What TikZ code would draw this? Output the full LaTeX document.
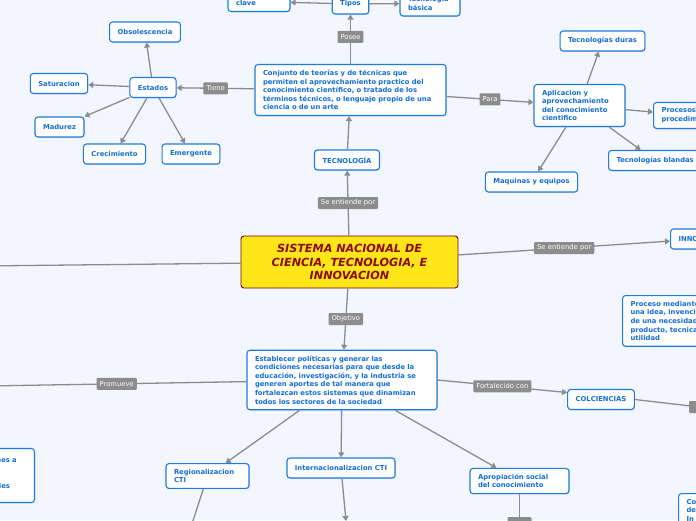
\documentclass[tikz,border=0pt]{standalone}
\usepackage{fontspec}
\setmainfont{DejaVu Sans}
\usetikzlibrary{arrows.meta,shadows}

\definecolor{fondo}{RGB}{243,246,254}
\definecolor{azul}{RGB}{30,124,224}
\definecolor{textoazul}{RGB}{20,110,215}
\definecolor{gris}{RGB}{140,140,140}
\definecolor{amarillo}{RGB}{255,230,25}
\definecolor{rojo}{RGB}{140,10,10}

\tikzset{
  caja/.style={draw=azul, line width=1.1pt, fill=white, rounded corners=3pt,
    text=textoazul, font=\bfseries\fontsize{6.8}{8.6}\selectfont,
    inner xsep=8pt, inner ysep=5.5pt, minimum height=20pt,
    drop shadow={shadow xshift=0.6pt, shadow yshift=-0.8pt, opacity=0.3}},
  multi/.style={caja, align=left, text width=#1},
  lbl/.style={fill=gris, text=white, font=\fontsize{6.8}{8}\selectfont,
    inner xsep=3pt, inner ysep=2pt, minimum height=12pt, rounded corners=1pt},
  linea/.style={draw=gris, line width=1.3pt},
  flecha/.style={linea, -{Triangle[width=6pt,length=5pt]}},
}

\begin{document}
\begin{tikzpicture}[x=1pt, y=-1pt]
    \useasboundingbox (0,0) rectangle (696,520);
    \fill[fondo] (0,0) rectangle (696,520);

    % Nodo central
    \node[draw=rojo!80!black, line width=0.9pt, fill=amarillo, rounded corners=3pt,
      text=rojo, font=\bfseries\itshape\fontsize{11.2}{13.5}\selectfont, align=center,
      minimum width=217pt, minimum height=52pt] (titulo) at (349.5,262)
      {SISTEMA NACIONAL DE\\CIENCIA, TECNOLOGIA, E\\INNOVACION};

    % Rama de tecnologia
    \node[caja] (tec) at (347,160) {TECNOLOGÍA};
    \node[multi=175pt] (conj) at (350.5,90) {Conjunto de teorías y de técnicas que\\permiten el aprovechamiento practico del\\conocimiento científico, o tratado de los\\términos técnicos, o lenguaje propio de una\\ciencia o de un arte};
    \node[caja] (tipos) at (350.5,4) {Tipos};
    \node[multi=46pt] (clave) at (259,1.5) {\mbox{}\\clave};
    \node[multi=44pt] (basica) at (430,3.4) {Tecnología\\básica};

    % Estados
    \node[caja] (estados) at (153,87.5) {Estados};
    \node[caja] (obsol) at (145,32) {Obsolescencia};
    \node[caja] (satur) at (59,83.5) {Saturacion};
    \node[caja] (madurez) at (59.5,127) {Madurez};
    \node[caja] (crec) at (114.5,154) {Crecimiento};
    \node[caja] (emerg) at (191,154) {Emergente};

    % Aplicacion
    \node[multi=75pt] (aplic) at (579.5,105.5) {Aplicacion y\\aprovechamiento\\del conocimiento\\cientifico};
    \node[caja] (duras) at (602.5,41) {Tecnologías duras};
    \node[caja, align=left, anchor=west] (procesos) at (653,115.5) {Procesos y\\procedimientos};
    \node[caja, anchor=west] (blandas) at (608,160.5) {Tecnologías blandas};
    \node[caja] (maquinas) at (531.5,182) {Maquinas y equipos};

    % Innovacion
    \node[caja, anchor=west] (inno) at (670,239) {INNOVACION};
    \node[multi=90pt, anchor=north west] (proceso) at (622,295) {Proceso mediante\\una idea, invención\\de una necesidad\\producto, tecnica\\utilidad};

    % Objetivo
    \node[multi=174pt] (estab) at (342,380) {Establecer políticas y generar las\\condiciones necesarias para que desde la\\educación, investigación, y la industria se\\generen aportes de tal manera que\\fortalezcan estos sistemas que dinamizan\\todos los sectores de la sociedad};
    \node[caja] (colc) at (601,399.5) {COLCIENCIAS};
    \node[multi=67pt] (region) at (207.5,476) {Regionalizacion\\CTI};
    \node[caja] (intl) at (341,468) {Internacionalizacion CTI};
    \node[multi=83pt] (aprop) at (519.5,481) {Apropiación social\\del conocimiento};
    \node[multi=30pt, anchor=east] (izq) at (35,475.5) {\mbox{}\\nes a\\\mbox{}\\\mbox{}\\des\\\mbox{}};
    \node[multi=60pt, anchor=north west] (esq) at (678,493) {Co\\de\\In};

    % Extremos fuera del cuadro
    \coordinate (lft) at (-20,266);
    \coordinate (plft) at (-13,386);
    \coordinate (reglow) at (190,530);
    \coordinate (intlow) at (346,521);
    \node[lbl, anchor=west, minimum width=20pt] (slbl) at (689,407) {S};
    \node[lbl, minimum width=24pt] (aplbl) at (519.5,523) {};

    % Conexiones
    \draw[flecha] (titulo) -- node[lbl] {Se entiende por} (tec);
    \draw[flecha] (tec) -- (conj);
    \draw[flecha] (conj) -- node[lbl, pos=0.55] {Posee} (tipos);
    \draw[flecha] (tipos) -- (clave);
    \draw[flecha] (tipos) -- (basica);
    \draw[flecha] (conj) -- node[lbl] {Tiene} (estados);
    \draw[flecha] (estados) -- (obsol);
    \draw[flecha] (estados) -- (satur);
    \draw[flecha] (estados) -- (madurez);
    \draw[flecha] (estados) -- (crec);
    \draw[flecha] (estados) -- (emerg);
    \draw[flecha] (conj) -- node[lbl] {Para} (aplic);
    \draw[flecha] (aplic) -- (duras);
    \draw[flecha] (aplic) -- (procesos);
    \draw[flecha] (aplic) -- (blandas);
    \draw[flecha] (aplic) -- (maquinas);
    \draw[linea] (titulo) -- (lft);
    \draw[flecha] (titulo) -- node[lbl] {Se entiende por} (inno);
    \draw[flecha] (titulo) -- node[lbl] {Objetivo} (estab);
    \draw[linea] (estab) -- node[lbl] {Promueve} (plft);
    \draw[flecha] (estab.east) -- node[lbl] {Fortalecido con} ([yshift=7pt]colc.west);
    \draw[linea] (colc.east) -- (slbl);
    \draw[flecha] (estab) -- (region);
    \draw[flecha] (estab) -- (intl);
    \draw[flecha] (estab) -- (aprop);
    \draw[linea] (region) -- (reglow);
    \draw[flecha] (intl) -- (intlow);
    \draw[linea] (aprop) -- (aplbl);
\end{tikzpicture}
\end{document}
